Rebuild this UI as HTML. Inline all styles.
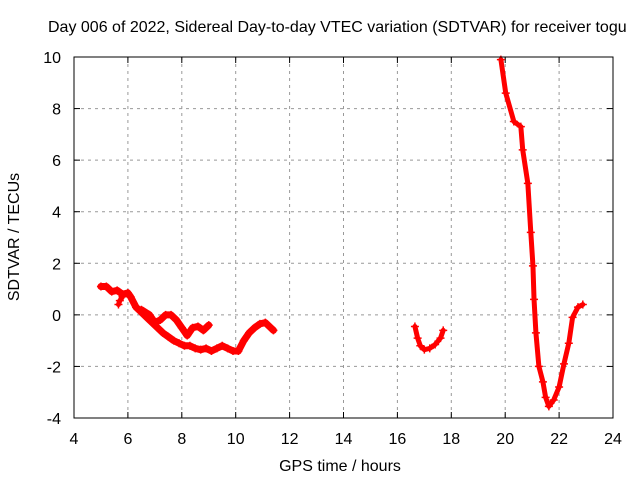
<!DOCTYPE html>
<html><head><meta charset="utf-8"><style>
body{margin:0;background:#fff;}
text{font-family:"Liberation Sans",sans-serif;font-size:16px;fill:#000;}
</style></head><body>
<svg id="chart" width="640" height="480" xmlns="http://www.w3.org/2000/svg">
<rect width="640" height="480" fill="#fff"/>
<text x="48" y="32">Day 006 of 2022, Sidereal Day-to-day VTEC variation (SDTVAR) for receiver togu</text>
<g id="grid"></g>
<g id="axes"></g>
<g id="series"></g>
<rect x="74" y="57" width="539" height="361" fill="none" stroke="#000" stroke-width="1"/>
<text x="340" y="471" text-anchor="middle">GPS time / hours</text>
<text transform="translate(19,237) rotate(-90)" text-anchor="middle">SDTVAR / TECUs</text>
</svg>
<script>
const xTicks=[4,6,8,10,12,14,16,18,20,22,24];
const yTicks=[-4,-2,0,2,4,6,8,10];
const seg1Hours=[5.0,5.2,5.4,5.6,5.8,6.0,6.1,6.3,6.5,6.7,6.9,7.1,7.3,7.5,7.7,7.9,8.1,8.3,8.5,8.7,8.9,9.1,9.3,9.5,9.7,9.9,10.1,10.3,10.5,10.7,10.9,11.1,11.3,11.4];
const seg1Values=[1.1,1.1,0.9,0.95,0.8,0.85,0.7,0.3,0.1,-0.1,-0.3,-0.5,-0.7,-0.85,-1.0,-1.1,-1.2,-1.2,-1.3,-1.35,-1.3,-1.4,-1.3,-1.2,-1.3,-1.4,-1.4,-1.0,-0.7,-0.5,-0.35,-0.3,-0.5,-0.6];
const seg2Hours=[5.65,5.7,5.8,6.5,6.8,7.0,7.2,7.4,7.6,7.8,8.0,8.2,8.4,8.6,8.8,9.0];
const seg2Values=[0.4,0.55,0.7,0.2,0.0,-0.3,-0.2,0.0,0.0,-0.2,-0.5,-0.8,-0.5,-0.45,-0.6,-0.4];
const seg3Hours=[16.65,16.75,16.85,17.0,17.2,17.4,17.6,17.7];
const seg3Values=[-0.45,-0.9,-1.2,-1.35,-1.3,-1.15,-0.9,-0.6];
const seg4Hours=[19.84,20.02,20.32,20.58,20.65,20.84,20.95,21.03,21.07,21.14,21.25,21.4,21.5,21.62,21.8,22.0,22.18,22.36,22.5,22.7,22.88];
const seg4Values=[9.9,8.6,7.5,7.3,6.4,5.1,3.2,1.9,0.6,-0.7,-2.0,-2.6,-3.2,-3.55,-3.3,-2.8,-1.9,-1.1,-0.1,0.3,0.4];

const L=74,R=613,T=57,B=418;
const xs=h=>L+(h-4)/20*(R-L);
const ys=v=>B-(v+4)/14*(B-T);
const NS='http://www.w3.org/2000/svg';
function mk(tag,attrs,parent){const e=document.createElementNS(NS,tag);for(const k in attrs)e.setAttribute(k,attrs[k]);parent.appendChild(e);return e;}
const grid=document.getElementById('grid'),axes=document.getElementById('axes'),series=document.getElementById('series');
xTicks.forEach(t=>{const x=xs(t);
 if(t>4&&t<24){const g=mk('line',{x1:x,x2:x,y1:T,y2:B,stroke:'#999','stroke-dasharray':'3,4'},grid);
 
 }
 mk('line',{x1:x,x2:x,y1:B,y2:B-6,stroke:'#000'},axes);mk('line',{x1:x,x2:x,y1:T,y2:T+6,stroke:'#000'},axes);
 const tx=mk('text',{x:x,y:B+26,'text-anchor':'middle'},axes);tx.textContent=t;
 
 });
yTicks.forEach(t=>{const y=ys(t);
 if(t>-4&&t<10){const g=mk('line',{x1:L,x2:R,y1:y,y2:y,stroke:'#999','stroke-dasharray':'3,4'},grid);
 
 }
 mk('line',{x1:L,x2:L+6,y1:y,y2:y,stroke:'#000'},axes);mk('line',{x1:R,x2:R-6,y1:y,y2:y,stroke:'#000'},axes);
 const tx=mk('text',{x:L-13,y:y+6,'text-anchor':'end'},axes);tx.textContent=t;
 
 });
function drawSeg(H,V,name,w){
 const pts=H.map((h,i)=>xs(h)+','+ys(V[i])).join(' ');
 const pl=mk('polyline',{points:pts,fill:'none',stroke:'#f00','stroke-width':w,'stroke-linejoin':'round','stroke-linecap':'round'},series);
 
 
 H.forEach((h,i)=>{const x=xs(h),y=ys(V[i]);
  const p=mk('path',{d:`M${x-4},${y}H${x+4}M${x},${y-4}V${y+4}`,stroke:'#f00','stroke-width':1.5},series);
  
  });
}
drawSeg(seg1Hours,seg1Values,'track-a',7);
drawSeg(seg2Hours.slice(0,3),seg2Values.slice(0,3),'track-b-start',5);
drawSeg(seg2Hours.slice(3),seg2Values.slice(3),'track-b',7);
drawSeg(seg3Hours,seg3Values,'track-c',5);
drawSeg(seg4Hours,seg4Values,'track-d',5);
</script>
</body></html>
